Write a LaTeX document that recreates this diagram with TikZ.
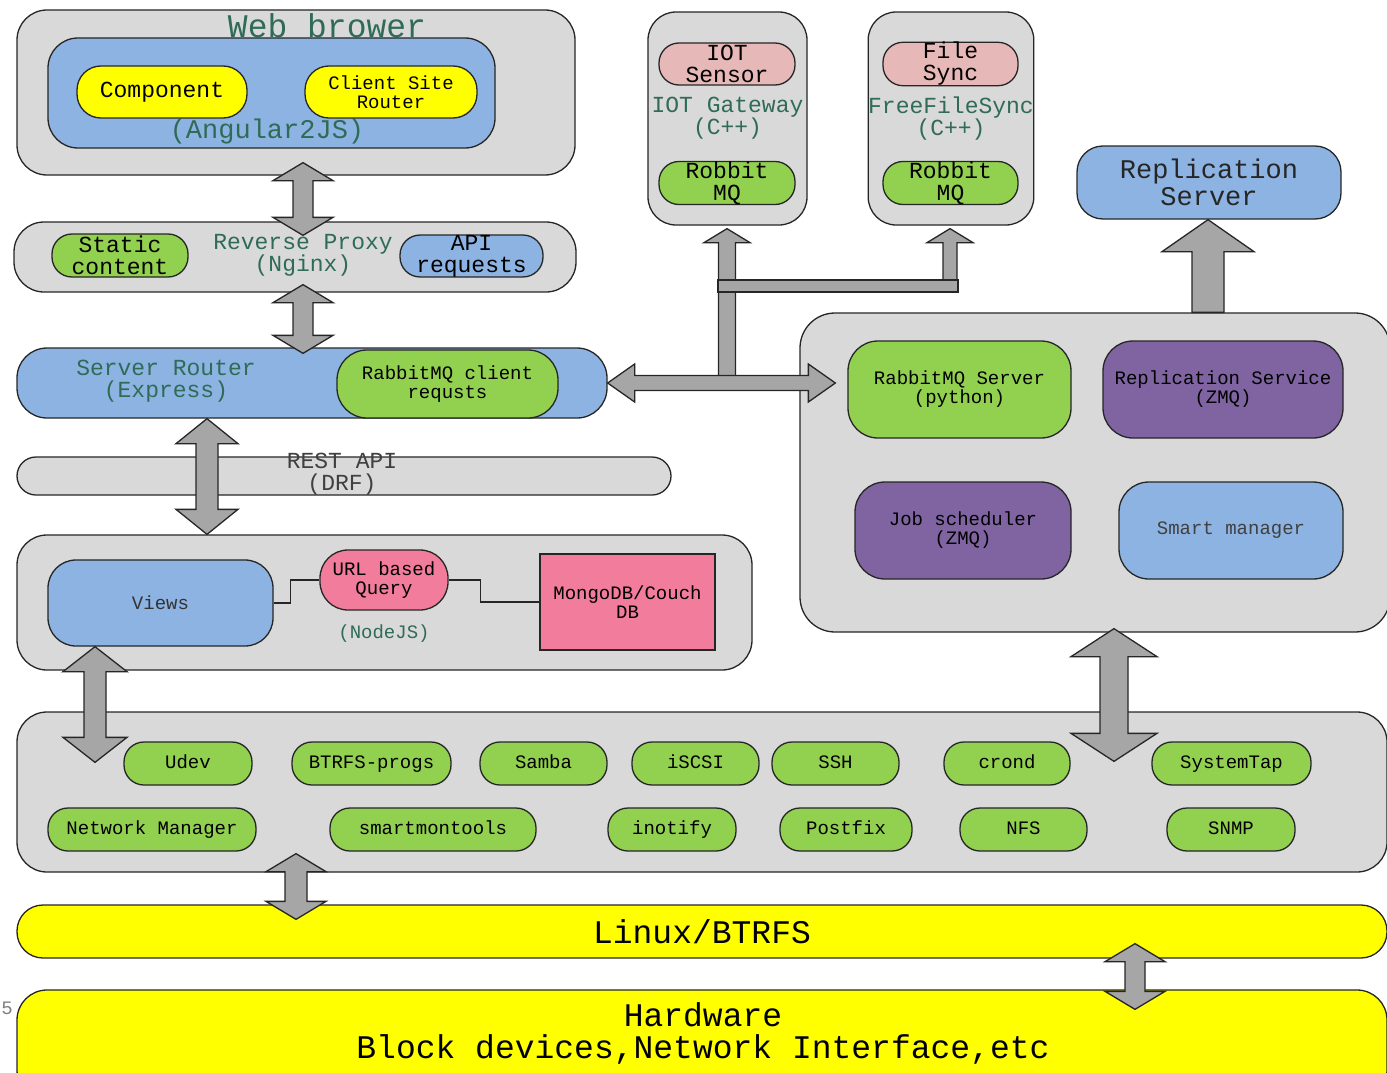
\documentclass[tikz,border=0pt]{standalone}
\usepackage{fontspec}
\setmainfont{Liberation Mono}
\usetikzlibrary{calc}

\definecolor{grayf}{HTML}{D9D9D9}
\definecolor{bluef}{HTML}{8DB3E2}
\definecolor{greenf}{HTML}{92D050}
\definecolor{yellowf}{HTML}{FFFF00}
\definecolor{rosef}{HTML}{E6B8B7}
\definecolor{pinkf}{HTML}{F27C9C}
\definecolor{purplef}{HTML}{8064A2}
\definecolor{arrowf}{HTML}{A6A6A6}
\definecolor{edge}{HTML}{262626}
\definecolor{tealtext}{HTML}{2F6B57}

% x, top point, bottom point, shaft half, head half, head length
\newcommand{\vdarrow}[6]{%
  \path[blockarrow] let \p0=(#1,0), \p1=(#2), \p2=(#3) in
    (\x0,\y1) -- (\x0+#5pt,\y1-#6pt) -- (\x0+#4pt,\y1-#6pt) -- (\x0+#4pt,\y2+#6pt)
    -- (\x0+#5pt,\y2+#6pt) -- (\x0,\y2) -- (\x0-#5pt,\y2+#6pt) -- (\x0-#4pt,\y2+#6pt)
    -- (\x0-#4pt,\y1-#6pt) -- (\x0-#5pt,\y1-#6pt) -- cycle;}
% y, left point, right point, shaft half, head half, head length
\newcommand{\hdarrow}[6]{%
  \path[blockarrow] let \p0=(0,#1), \p1=(#2), \p2=(#3) in
    (\x1,\y0) -- (\x1+#6pt,\y0+#5pt) -- (\x1+#6pt,\y0+#4pt) -- (\x2-#6pt,\y0+#4pt)
    -- (\x2-#6pt,\y0+#5pt) -- (\x2,\y0) -- (\x2-#6pt,\y0-#5pt) -- (\x2-#6pt,\y0-#4pt)
    -- (\x1+#6pt,\y0-#4pt) -- (\x1+#6pt,\y0-#5pt) -- cycle;}
% x, bottom point, tip point, shaft half, head half, head length
\newcommand{\upblock}[6]{%
  \path[blockarrow] let \p0=(#1,0), \p1=(#2), \p2=(#3) in
    (\x0-#4pt,\y1) -- (\x0-#4pt,\y2-#6pt) -- (\x0-#5pt,\y2-#6pt) -- (\x0,\y2)
    -- (\x0+#5pt,\y2-#6pt) -- (\x0+#4pt,\y2-#6pt) -- (\x0+#4pt,\y1) -- cycle;}

\begin{document}
\begin{tikzpicture}[x=1pt, y=-1pt,
    box/.style={draw=edge, line width=1.3pt, align=center, inner sep=0pt},
    grp/.style={box, fill=grayf, rounded corners=30pt},
    pill/.style={box, rounded corners=#1},
    pill/.default=20pt,
    svc/.style={pill, fill=greenf, txtS, text height=13pt, text depth=4pt, minimum height=43pt},
    wire/.style={draw=edge, line width=1.3pt},
    blockarrow/.style={draw=edge, line width=1.3pt, fill=arrowf, line join=miter},
    txtS/.style={align=center, font=\fontsize{19}{19}\selectfont},
    txtM/.style={align=center, font=\fontsize{23}{22}\selectfont},
    txtL/.style={align=center, font=\fontsize{27}{27}\selectfont},
    txtXL/.style={align=center, font=\fontsize{33}{32}\selectfont}
]
\path[use as bounding box, clip] (0,0) rectangle (1387,1073);

% web browser
\node[grp, minimum width=558pt, minimum height=165pt] (web) at (296,92.5) {};
\node[txtXL, text=tealtext] (webtitle) at (327,26) {Web brower};
\node[box, fill=bluef, rounded corners=30pt, minimum width=447pt, minimum height=110pt] (angular) at (271.5,93) {};
\node[txtL, text=tealtext] (angtext) at (267,132) {(Angular2JS)};
\node[pill=24pt, fill=yellowf, txtM, minimum width=170pt, minimum height=52pt] (comp) at (162,92) {Component};
\node[pill=24pt, fill=yellowf, txtS, minimum width=172pt, minimum height=52pt] (csr) at (391,92) {Client Site\\Router};

% reverse proxy
\node[grp, minimum width=562pt, minimum height=70pt] (proxy) at (295,257) {};
\node[txtM, text=tealtext] (proxytext) at (303,255) {Reverse Proxy\\(Nginx)};
\node[pill, fill=greenf, txtM, minimum width=136pt, minimum height=43pt] (static) at (120,255.5) {Static\\content};
\node[pill, fill=bluef, txtM, minimum width=143pt, minimum height=41pt] (api) at (471.5,256) {API\\requests};

% server router
\node[box, fill=bluef, rounded corners=30pt, minimum width=590pt, minimum height=70pt] (server) at (312,383) {};
\node[txtM, text=tealtext] (servertext) at (166,381) {Server Router\\(Express)};
\node[pill=30pt, fill=greenf, txtS, minimum width=221pt, minimum height=68pt] (rmqc) at (447.5,384) {RabbitMQ client\\requsts};

% gateways
\node[grp, rounded corners=28pt, txtM, text=tealtext, minimum width=159pt, minimum height=213pt] (iotgw) at (727.5,118.5) {IOT Gateway\\(C++)};
\node[pill, fill=rosef, txtM, minimum width=136pt, minimum height=42pt] (iots) at (727,64) {IOT\\Sensor};
\node[pill, fill=greenf, txtM, minimum width=136pt, minimum height=42pt] (iotmq) at (727,183) {Robbit\\MQ};
\node[grp, rounded corners=28pt, txtM, text=tealtext, minimum width=158pt, minimum height=213pt] (ffs) at (951,118.5) {FreeFileSync\\(C++)};
\node[pill, fill=rosef, txtM, minimum width=135pt, minimum height=42pt] (fsync) at (950.5,64) {File\\Sync};
\node[pill, fill=greenf, txtM, minimum width=135pt, minimum height=42pt] (ffsmq) at (950.5,183) {Robbit\\MQ};

\node[pill=26pt, fill=bluef, txtL, text=edge, minimum width=264pt, minimum height=73pt] (repl) at (1209,182.5) {Replication\\Server};

% core services
\node[grp, rounded corners=35pt, minimum width=590pt, minimum height=319pt] (core) at (1095,472.5) {};
\node[pill=30pt, fill=greenf, txtS, minimum width=223pt, minimum height=97pt] (rmqs) at (959.5,389.5) {RabbitMQ Server\\(python)};
\node[pill=30pt, fill=purplef, txtS, minimum width=240pt, minimum height=97pt] (rsvc) at (1223,389.5) {Replication Service\\(ZMQ)};
\node[pill=30pt, fill=purplef, txtS, minimum width=216pt, minimum height=97pt] (jobs) at (963,530.5) {Job scheduler\\(ZMQ)};
\node[pill=30pt, fill=bluef, txtS, text=black!75, minimum width=224pt, minimum height=97pt] (smart) at (1231,530.5) {Smart manager};

% REST and NodeJS
\node[pill=19pt, fill=grayf, minimum width=654pt, minimum height=38pt] (rest) at (344,476) {};
\node[txtM, text=black!75] (resttext) at (342,474) {REST API\\(DRF)};
\node[grp, minimum width=735pt, minimum height=135pt] (nodejs) at (384.5,602.5) {};
\node[txtS, text=tealtext] (nodetext) at (384,634) {(NodeJS)};
\node[pill=28pt, fill=bluef, txtS, text=black!80, minimum width=225pt, minimum height=86pt] (views) at (160.5,603) {Views};
\node[pill=28pt, fill=pinkf, txtS, minimum width=128pt, minimum height=60pt] (url) at (384,580) {URL based\\Query};
\node[box, fill=pinkf, txtS, minimum width=175pt, minimum height=96pt] (mongo) at (627.5,602) {MongoDB/Couch\\DB};
\draw[wire] (views.east) -- ++(17,0) |- (url.west);
\draw[wire] (url.east) -- ++(32,0) |- (mongo.west);

% system services
\node[grp, minimum width=1370pt, minimum height=160pt] (sys) at (702,792) {};
\node[svc, minimum width=128pt] (udev) at (188,763.5) {Udev};
\node[svc, minimum width=159pt] (btrfs) at (371.5,763.5) {BTRFS-progs};
\node[svc, minimum width=127pt] (samba) at (543.5,763.5) {Samba};
\node[svc, minimum width=127pt] (iscsi) at (695.5,763.5) {iSCSI};
\node[svc, minimum width=127pt] (ssh) at (835.5,763.5) {SSH};
\node[svc, minimum width=126pt] (crond) at (1007,763.5) {crond};
\node[svc, minimum width=159pt] (stap) at (1231.5,763.5) {SystemTap};
\node[svc, minimum width=208pt] (netman) at (152,829.5) {Network Manager};
\node[svc, minimum width=206pt] (smartmon) at (433,829.5) {smartmontools};
\node[svc, minimum width=128pt] (inotify) at (672,829.5) {inotify};
\node[svc, minimum width=132pt] (postfix) at (846,829.5) {Postfix};
\node[svc, minimum width=127pt] (nfs) at (1023.5,829.5) {NFS};
\node[svc, minimum width=128pt] (snmp) at (1231,829.5) {SNMP};

% linux and hardware
\node[pill=26pt, fill=yellowf, txtXL, minimum width=1370pt, minimum height=53pt] (linux) at (702,931.5) {Linux/BTRFS};
\node[pill=30pt, fill=yellowf, minimum width=1370pt, minimum height=110pt] (hw) at (702,1045) {};
\node[txtXL] (hwtext) at (703,1033) {Hardware\\Block devices,Network Interface,etc};
\node[txtS, text=black!50] (pagenum) at (7,1008) {5};

% block arrows
\vdarrow{303}{$(web.south)+(0,-13)$}{$(proxy.north)+(0,14)$}{10}{30}{18}
\vdarrow{303}{$(proxy.south)+(0,-8)$}{$(server.north)+(0,6)$}{10}{30}{18}
\vdarrow{207}{server.south}{nodejs.north}{11}{31}{25}
\vdarrow{95}{views.south}{$(sys.north)+(0,51)$}{11}{32}{25}
\vdarrow{1114}{$(core.south)+(0,-4)$}{$(sys.north)+(0,50)$}{14}{43}{28}
\vdarrow{296}{$(sys.south)+(0,-19)$}{$(linux.north)+(0,15)$}{11}{30}{18}
\vdarrow{1135}{$(linux.south)+(0,-15)$}{$(hw.north)+(0,20)$}{10}{30}{18}
\upblock{1208}{core.north}{repl.south}{16}{46}{32}
\upblock{727}{server.east -| iotgw.south}{$(iotgw.south)+(0,3)$}{8.5}{23}{14}
\upblock{950}{$(ffs.south)+(0,61)$}{$(ffs.south)+(0,3)$}{7}{23}{14}
\path[blockarrow] (718,280) rectangle (958,292);
\hdarrow{383}{server.east}{$(core.west)+(36,0)$}{7.5}{19}{27}
\end{tikzpicture}
\end{document}
